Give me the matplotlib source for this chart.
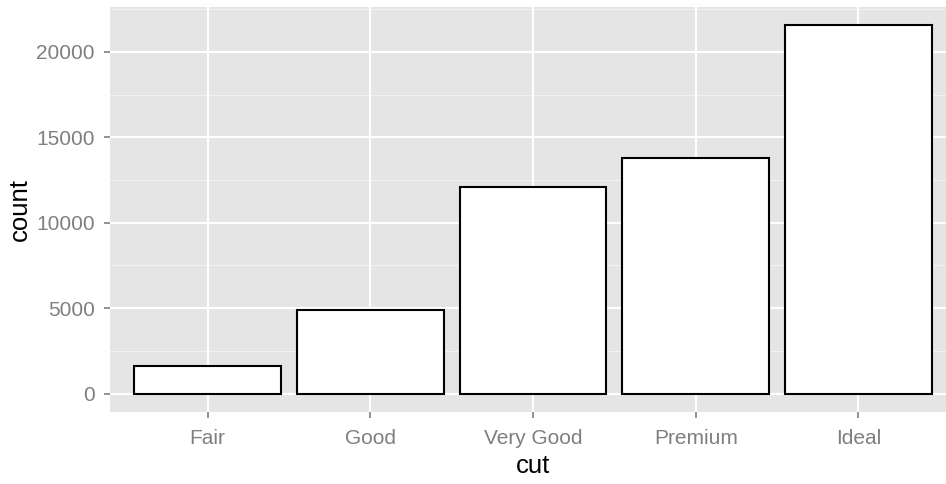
import numpy as np
import matplotlib.pyplot as plt

# Data
cuts = ["Fair", "Good", "Very Good", "Premium", "Ideal"]
counts = [1610, 4906, 12082, 13791, 21551]
y_ticks = [0, 5000, 10000, 15000, 20000]
y_minor = [2500, 7500, 12500, 17500, 22500]

plt.rcParams['font.family'] = ['Liberation Sans', 'DejaVu Sans']

W, H = 946, 484
fig = plt.figure(figsize=(W / 100, H / 100), dpi=100)
# panel runs past the right edge, as in the (cropped) reference
ax = fig.add_axes([110 / W, 1 - 412 / H, (956 - 110) / W, (412 - 7) / H])
ax.set_facecolor("#E5E5E5")

x = np.arange(len(cuts))
ax.bar(x, counts, width=0.9, color="white", edgecolor="black", linewidth=1.5, zorder=3)

ymax = max(counts)
pad = 0.05 * ymax
ax.set_ylim(-pad, ymax + pad)
ax.set_xlim(-0.6, len(cuts) - 0.4)

# grid
for v in y_minor:
    ax.axhline(v, color="#F2F2F2", linewidth=0.8, zorder=1)
for v in y_ticks:
    ax.axhline(v, color="white", linewidth=1.5, zorder=2)
for v in x:
    ax.axvline(v, color="white", linewidth=1.5, zorder=2)

ax.set_xticks(x)
ax.set_xticklabels(cuts)
ax.set_yticks(y_ticks)
ax.set_yticklabels([str(v) for v in y_ticks])
ax.tick_params(axis="both", colors="#7F7F7F", labelsize=15, length=4.5, width=1.2, pad=6.5)
ax.tick_params(axis="x", pad=8)

for s in ax.spines.values():
    s.set_visible(False)

ax.set_xlabel("cut", fontsize=18.5, color="black", labelpad=4)
ax.set_ylabel("count", fontsize=18.5, color="black", labelpad=3)

fig.savefig("out.png", dpi=100)
